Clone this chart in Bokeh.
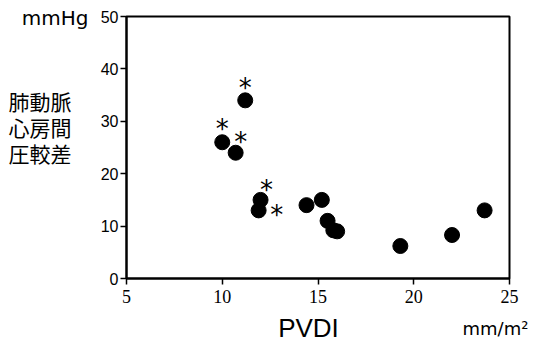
from bokeh.plotting import figure
from bokeh.models import Label, ColumnDataSource, Range1d
from bokeh.layouts import column, row
from bokeh.core.properties import value
from bokeh.embed import file_html
from bokeh.resources import INLINE

# data
pvdi = [11.2, 10.0, 10.7, 12.0, 11.9, 14.4, 15.2, 15.5, 15.8, 16.0, 19.3, 22.0, 23.7]
pressure = [34, 26, 24, 15, 13, 14, 15, 11, 9.2, 9.0, 6.2, 8.3, 13.0]
starred = [True, True, True, True, True, False, False, False, False, False, False, False, False]
x_ticks = [5, 10, 15, 20, 25]
y_ticks = [0, 10, 20, 30, 40, 50]
y_unit = "mmHg"
y_title = ["肺動脈", "心房間", "圧較差"]
x_title = "PVDI"
x_unit = "mm/m²"

# star offsets (pixels, style)
star_dx = [0, 0, 5, 6, 18]
star_dy = [12, 13, 11, 10, -5]

W, H = 540, 341
LEFT_W = 92
TOP_H = 310
BOT_H = H - TOP_H

def blank(width, height):
    f = figure(width=width, height=height, output_backend="svg", toolbar_location=None,
               x_range=Range1d(0, width), y_range=Range1d(0, height),
               min_border=0, x_axis_type=None, y_axis_type=None)
    f.grid.visible = False
    f.outline_line_color = None
    f.background_fill_color = "white"
    f.border_fill_color = "white"
    return f

MW = W - LEFT_W
p = figure(width=MW, height=TOP_H, output_backend="svg", toolbar_location=None,
           x_range=Range1d(5, 25), y_range=Range1d(0, 50),
           min_border_left=126 - LEFT_W, min_border_right=W - 509, min_border_top=16,
           min_border_bottom=TOP_H - 278)
p.grid.visible = False
p.outline_line_color = "black"
p.outline_line_width = 2
p.background_fill_color = "white"
p.border_fill_color = "white"

for ax in (p.xaxis[0], p.yaxis[0]):
    ax.axis_line_width = 2
    ax.axis_line_color = "black"
    ax.major_tick_line_width = 1.5
    ax.major_tick_in = 0
    ax.major_tick_out = 6
    ax.minor_tick_line_color = None
    ax.major_label_text_color = "black"

p.xaxis.ticker = x_ticks
p.yaxis.ticker = y_ticks
p.xaxis.major_label_text_font = "Liberation Serif"
p.xaxis.major_label_text_font_size = "18px"
p.xaxis.major_label_standoff = 5
p.yaxis.major_label_text_font = "Liberation Sans"
p.yaxis.major_label_text_font_size = "16px"
p.yaxis.major_label_standoff = 2

src = ColumnDataSource(dict(x=pvdi, y=pressure))
p.scatter("x", "y", source=src, size=15, fill_color="black", line_color="black")

sx = [x for x, s in zip(pvdi, starred) if s]
sy = [y for y, s in zip(pressure, starred) if s]
ssrc = ColumnDataSource(dict(x=sx, y=sy, dx=star_dx, dy=[-d for d in star_dy]))
p.text(x="x", y="y", text=value("*"), source=ssrc, x_offset="dx", y_offset="dy",
       text_align="center", text_baseline="middle", text_font=value("DejaVu Sans"),
       text_font_size="26px", text_color="black")

# left text panel
lf = blank(LEFT_W, TOP_H)
lf.add_layout(Label(x=88, y=TOP_H - 17, text=y_unit, text_font="DejaVu Sans",
                    text_font_size="20px", text_align="right", text_baseline="middle",
                    text_color="black"))
for i, t in enumerate(y_title):
    lf.add_layout(Label(x=8, y=TOP_H - 100 - 26 * i, text=t, text_font="Noto Sans CJK JP",
                        text_font_size="21px", text_align="left", text_baseline="middle",
                        text_color="black"))

# bottom text panel
bf = blank(W, BOT_H)
bf.add_layout(Label(x=308, y=BOT_H - 17, text=x_title, text_font="Liberation Sans",
                    text_font_size="26px", text_align="center", text_baseline="middle",
                    text_color="black"))
bf.add_layout(Label(x=462, y=BOT_H - 18, text=x_unit, text_font="DejaVu Sans",
                    text_font_size="18px", text_align="left", text_baseline="middle",
                    text_color="black"))

layout = column(row(column(lf), p, spacing=0), bf, spacing=0)
open("out.html", "w").write(file_html(layout, INLINE))
